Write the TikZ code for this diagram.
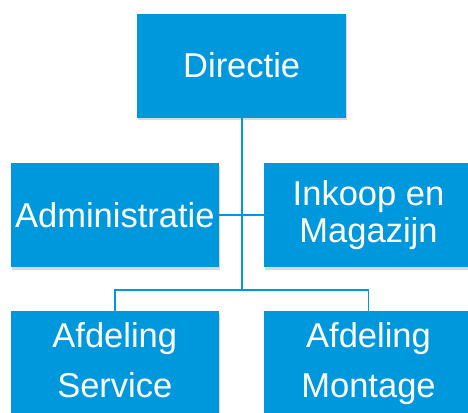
\documentclass[tikz,border=0pt]{standalone}
\usepackage{fontspec}
\setmainfont{Liberation Sans}
\usetikzlibrary{positioning, shadows, calc}
\definecolor{orgblue}{RGB}{0, 152, 220}

\begin{document}
\begin{tikzpicture}[x=1pt, y=-1pt,
    unit/.style={rectangle, fill=orgblue, text=white, minimum width=208.6pt, minimum height=104pt, inner sep=0pt, align=center, font=\fontsize{34.5}{37}\selectfont, drop shadow={shadow xshift=1pt, shadow yshift=-2.5pt, opacity=0.3}},
    tallunit/.style={unit, font=\fontsize{34.5}{50}\selectfont},
    link/.style={draw=orgblue, line width=1.8pt}
]
\useasboundingbox (0,0) rectangle (468,412);
\node[unit] (admin) at (114.8,215) {Administratie};
\node[unit, right=44.7pt of admin] (inkoop) {Inkoop en\\Magazijn};
\coordinate (mid) at ($(admin.north)!0.5!(inkoop.north)$);
\node[unit, above=45pt of mid, anchor=south] (directie) {Directie};
\node[tallunit, below=44pt of admin] (service) {Afdeling\\Service\vphantom{g}};
\node[tallunit, right=44.7pt of service] (montage) {Afdeling\\Montage};

\coordinate (split) at ($(directie.south)+(0,172)$);

\draw[link] (directie.south) -- (split);
\draw[link] (admin.east) -- (inkoop.west);
\draw[link] (service.north) |- (split) -| (montage.north);
\end{tikzpicture}
\end{document}
